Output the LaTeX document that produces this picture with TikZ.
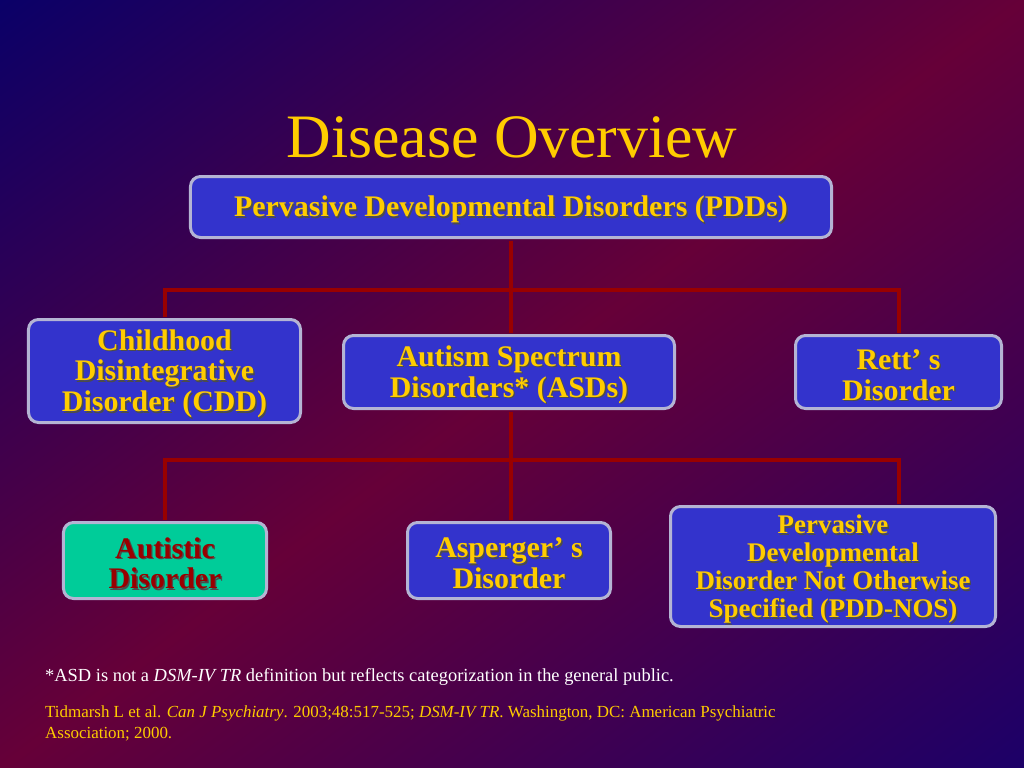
\documentclass[tikz,border=0pt]{standalone}
\usepackage{fontspec}
\setmainfont{Liberation Serif}
\usetikzlibrary{positioning, calc}
\definecolor{bgblue}{RGB}{10,0,104}
\definecolor{bgred}{RGB}{102,0,56}
\definecolor{bgviolet}{RGB}{28,0,104}
\definecolor{boxblue}{RGB}{51,51,204}
\definecolor{boxteal}{RGB}{0,204,153}
\definecolor{boxrim}{RGB}{180,180,212}
\definecolor{txtgold}{RGB}{255,204,0}
\definecolor{linkred}{RGB}{153,0,0}
% shadowed line of box text, set a little low
\newcommand{\shd}[1]{\raisebox{-3.5bp}[\height][\depth]{\makebox[0pt][l]{\hspace{1.4bp}\raisebox{-1.4bp}{\color{black!70}#1}}#1}}

\begin{document}
\begin{tikzpicture}[
    x=1bp, y=-1bp,
    link/.style={draw=linkred, line width=4bp, shorten >=1.5bp, shorten <=1.5bp},
    box/.style={draw=boxrim, line width=3bp, rounded corners=10bp, fill=boxblue, text=txtgold,
                align=center, inner sep=0pt, font=\fontsize{30}{31}\selectfont\bfseries},
    tealbox/.style={box, fill=boxteal, text=linkred},
    note/.style={align=left, inner sep=0pt},
]
% === Background ===
\useasboundingbox (0,0) rectangle (1024,768);
\begin{scope}
    \clip (0,0) rectangle (1024,768);
    \begin{scope}[transform canvas={rotate around={36.87:(512,384)}}]
        \shade[top color=bgblue, bottom color=bgviolet, middle color=bgred] (-388,-230.4) rectangle (1412,998.4);
    \end{scope}
\end{scope}
% Title
\node[font=\fontsize{62}{62}\selectfont, text=txtgold, anchor=base, inner sep=0pt] (title) at (512,157) {Disease Overview};
% === Top level ===
\node[box, minimum width=641bp, minimum height=61bp] (pdd) at (511,207) {\shd{Pervasive Developmental Disorders (PDDs)}};
% === Second level ===
\node[box, minimum width=272bp, minimum height=103bp] (cdd) at (164.5,371) {\shd{Childhood}\\\shd{Disintegrative}\\\shd{Disorder (CDD)}};
\node[box, minimum width=331bp, minimum height=73bp] (asd) at (509,372) {\shd{Autism Spectrum}\\\shd{Disorders* (ASDs)}};
\node[box, minimum width=206bp, minimum height=73bp] (rett) at (898.5,372) {\shd{Rett’ s}\\\shd{Disorder}};
% === Third level ===
\node[tealbox, minimum width=203bp, minimum height=76bp] (aut) at (165,560.5) {\shd{Autistic}\\\shd{Disorder}};
\node[box, minimum width=203bp, minimum height=76bp] (asp) at (509,560.5) {\shd{Asperger’ s}\\\shd{Disorder}};
\node[box, minimum width=325bp, minimum height=120bp, font=\fontsize{27}{28}\selectfont\bfseries] (nos) at (833,566.5)
    {\shd{Pervasive}\\\shd{Developmental}\\\shd{Disorder Not Otherwise}\\\shd{Specified (PDD-NOS)}};
% === Connectors ===
\coordinate (bus1) at (511,290);
\coordinate (bus2) at (511,460);
\draw[link] (pdd.south) -- (pdd.south |- asd.north);
\draw[link] (cdd.north) |- (bus1) -| (rett.north);
\draw[link] (pdd.south |- asd.south) -- (pdd.south |- asp.north);
\draw[link] (aut.north) |- (bus2) -| (nos.north -| rett.north);
% === Notes ===
\node[note, font=\fontsize{18.5}{20}\selectfont, text=white, anchor=base west] (fn) at (45,681)
    {*ASD is not a \textit{DSM-IV TR} definition but reflects categorization in the general public.};
\node[note, font=\fontsize{17}{21}\selectfont, text=txtgold, anchor=north west] (ref) at (45,706)
    {Tidmarsh L et al. \textit{Can J Psychiatry}. 2003;48:517-525; \textit{DSM-IV TR}. Washington, DC: American Psychiatric\\Association; 2000.};
\end{tikzpicture}
\end{document}
